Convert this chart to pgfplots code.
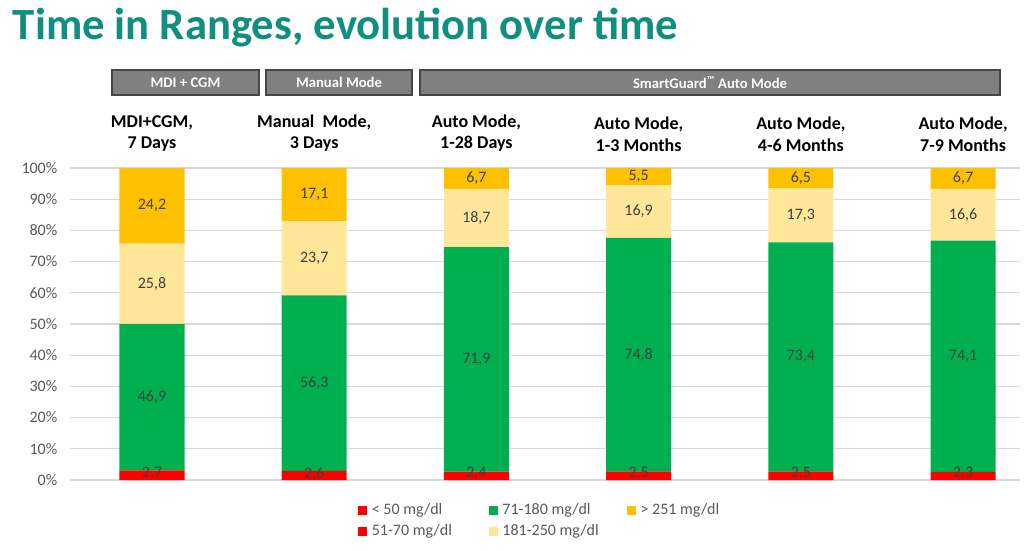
\documentclass[border=0pt]{standalone}
\usepackage{fontspec}
\setmainfont{Carlito}
\usepackage{pgfplots}
\pgfplotsset{compat=1.18}

\definecolor{cRed}{RGB}{255,0,0}
\definecolor{cGreen}{RGB}{0,176,80}
\definecolor{cLight}{RGB}{255,230,153}
\definecolor{cOrange}{RGB}{255,192,0}
\definecolor{cTitle}{RGB}{16,143,128}
\definecolor{cGrid}{RGB}{217,217,217}
\definecolor{cText}{RGB}{89,89,89}
\definecolor{cVal}{RGB}{64,64,64}
\definecolor{cHead}{RGB}{128,128,128}
\definecolor{cHeadEdge}{RGB}{70,70,70}

\pgfplotsset{
  base/.style={scale only axis, width=712.5pt, height=234pt,
    at={(52.5pt,52.5pt)}, anchor=south west,
    xmin=-0.5055, xmax=5.351, ymin=0, ymax=100},
  seg/.style={fill=#1, draw=none, forget plot},
}

\begin{document}
\begin{tikzpicture}
\path[use as bounding box] (0,0) rectangle (768pt,412.5pt);

% title
\node[anchor=base west, text=cTitle, inner sep=0,
  font=\fontsize{33.5}{36}\selectfont\bfseries] at (9.5pt,382.5pt)
  {Time in Ranges, evolution over time};

% group headers
\tikzset{head/.style={fill=cHead, draw=cHeadEdge, line width=0.8pt}}
\draw[head] (84pt,341.25pt) rectangle (194.25pt,360pt);
\draw[head] (199.5pt,341.25pt) rectangle (309pt,360pt);
\draw[head] (315pt,341.25pt) rectangle (750pt,360pt);
\tikzset{headtxt/.style={text=white, font=\fontsize{11}{12}\selectfont\bfseries}}
\node[headtxt] at (139.1pt,350.6pt) {MDI + CGM};
\node[headtxt] at (254.25pt,350.6pt) {Manual Mode};
\node[headtxt] at (532.5pt,350.6pt) {SmartGuard\textsuperscript{™} Auto Mode};

\begin{axis}[base,
  ybar stacked, bar width=48.75pt,
  xtick={0,...,5},
  xticklabels={{MDI+CGM,\\7 Days},{Manual\ \ Mode,\\3 Days},{Auto Mode,\\1-28 Days},
    {Auto Mode,\\1-3 Months},{Auto Mode,\\4-6 Months},{Auto Mode,\\7-9 Months}},
  xticklabel pos=upper,
  x tick label style={align=center, text=black,
    font=\fontsize{13.5}{16}\selectfont\bfseries, yshift=9pt},
  ytick={0,10,...,100},
  yticklabel={\pgfmathprintnumber{\tick}\%},
  /pgf/number format/assume math mode=true,
  y tick label style={text=cText, font=\fontsize{12}{14}\selectfont, xshift=-6pt},
  ymajorgrids, grid style={cGrid, line width=0.9pt},
  axis line style={draw=none}, major tick length=0pt,
  legend columns=3,
  legend style={at={(0.4947,-0.13)}, anchor=center, draw=none, fill=none,
    font=\fontsize{12}{14}\selectfont, text=cText, row sep=2pt,
    /tikz/column 1/.style={column sep=2pt},
    /tikz/column 2/.style={column sep=25.5pt},
    /tikz/column 3/.style={column sep=2pt},
    /tikz/column 4/.style={column sep=19pt},
    /tikz/column 5/.style={column sep=2pt}},
  legend cell align=left,
  legend image code/.code={\fill[#1] (0pt,-3pt) rectangle (6pt,3pt);},
]
% < 50 mg/dl
\addplot[seg=cRed] coordinates {(0,0.4) (1,0.3) (2,0.3) (3,0.3) (4,0.3) (5,0.3)};
% 51-70 mg/dl
\addplot[seg=cRed] coordinates {(0,2.7) (1,2.6) (2,2.4) (3,2.5) (4,2.5) (5,2.3)};
% 71-180 mg/dl
\addplot[seg=cGreen] coordinates {(0,46.9) (1,56.3) (2,71.9) (3,74.8) (4,73.4) (5,74.1)};
% 181-250 mg/dl
\addplot[seg=cLight] coordinates {(0,25.8) (1,23.7) (2,18.7) (3,16.9) (4,17.3) (5,16.6)};
% > 251 mg/dl
\addplot[seg=cOrange] coordinates {(0,24.2) (1,17.1) (2,6.7) (3,5.5) (4,6.5) (5,6.7)};

\addlegendimage{cRed}\addlegendentry{< 50 mg/dl}
\addlegendimage{cGreen}\addlegendentry{71-180 mg/dl}
\addlegendimage{cOrange}\addlegendentry{> 251 mg/dl}
\addlegendimage{cRed}\addlegendentry{51-70 mg/dl}
\addlegendimage{cLight}\addlegendentry{181-250 mg/dl}
\end{axis}

% value labels, centred in each segment
\begin{axis}[base, hide axis]
\addplot[only marks, mark=none, nodes near coords, point meta=explicit symbolic,
  nodes near coords style={anchor=center, text=cVal, font=\fontsize{12}{14}\selectfont}]
  coordinates {
  (0,2.0)[2,7] (0,26.55)[46,9] (0,62.9)[25,8] (0,87.9)[24,2]
  (1,2.0)[2,6] (1,31.05)[56,3] (1,71.05)[23,7] (1,91.45)[17,1]
  (2,2.0)[2,4] (2,38.65)[71,9] (2,83.95)[18,7] (2,96.65)[6,7]
  (3,2.0)[2,5] (3,40.2)[74,8] (3,86.05)[16,9] (3,97.25)[5,5]
  (4,2.0)[2,5] (4,39.5)[73,4] (4,84.85)[17,3] (4,96.75)[6,5]
  (5,2.0)[2,3] (5,39.65)[74,1] (5,85.0)[16,6] (5,96.65)[6,7]
  };
\end{axis}
\end{tikzpicture}
\end{document}
